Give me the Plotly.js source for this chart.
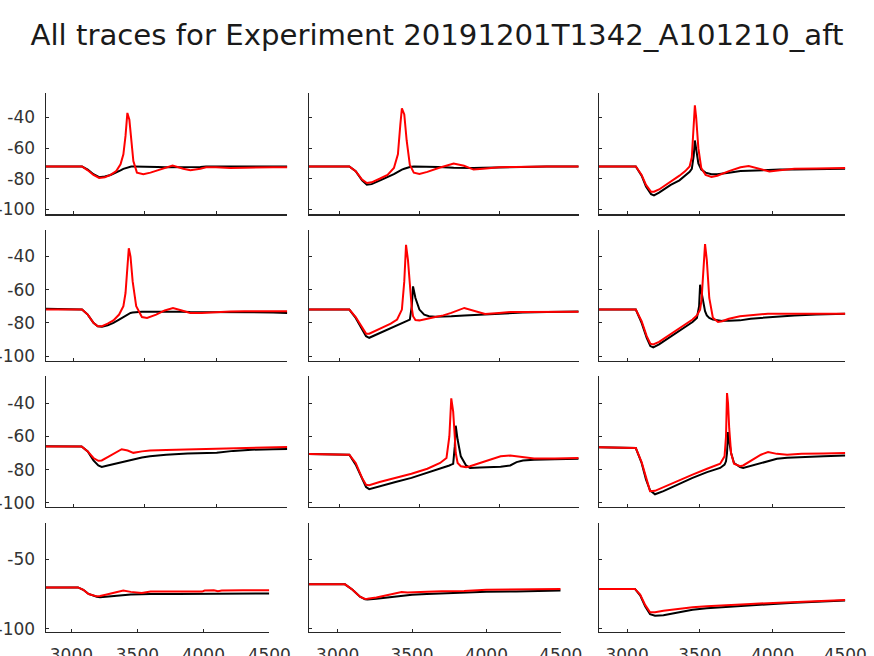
<!DOCTYPE html>
<html>
<head>
<meta charset="utf-8">
<script src="https://cdn.plot.ly/plotly-3.0.1.min.js"></script>
<style>html,body{margin:0;padding:0;background:#fff;}</style>
</head>
<body>
<div id="chart" style="width:874px;height:656px;"></div>
<script>
// ---- Data (time in ms, membrane potential in mV) ----
// Row 1
const t11 = [2805, 3060, 3100, 3140, 3180, 3220, 3260, 3300, 3330, 3350, 3365, 3378, 3392, 3405, 3420, 3445, 3490, 3540, 3590, 3640, 3695, 3770, 3820, 3890, 3930, 4000, 4100, 4200, 4300, 4400, 4500];
const k11 = [-72, -72, -74, -77, -79, -78.5, -77.5, -76, -74.5, -73.5, -73, -72.5, -72.3, -72, -72, -72, -72, -72, -72.3, -72.5, -72.5, -72.5, -72.5, -72.3, -72, -72, -72, -72, -72, -72, -72];
const r11 = [-72, -72, -74.5, -77.5, -79.5, -79, -77.5, -75, -70.5, -64, -52, -37, -41.5, -54, -68.5, -76, -77, -76, -74.5, -72.5, -71.3, -73.5, -74.5, -73.5, -72.5, -72.5, -73, -72.8, -72.5, -72.5, -72.5];

const t12 = [2805, 3060, 3100, 3140, 3170, 3200, 3250, 3300, 3340, 3365, 3380, 3390, 3405, 3420, 3440, 3465, 3500, 3550, 3620, 3715, 3780, 3840, 3900, 4000, 4100, 4200, 4300, 4400, 4500];
const k12 = [-72, -72, -75, -81, -83.8, -83.5, -81.2, -79, -77, -75.5, -74.5, -74, -73.5, -73, -72.3, -72, -72, -72, -72.3, -72.8, -73, -73, -72.8, -72.5, -72.3, -72.2, -72, -72, -72];
const r12 = [-72, -72, -75, -80.5, -82.8, -82.3, -80, -77.5, -73, -64, -45, -34, -38, -55, -71, -76, -76.8, -75.5, -73, -70, -71.5, -74, -73.5, -72.5, -72.3, -72, -72, -72, -72];

const t13 = [2805, 3060, 3100, 3130, 3165, 3185, 3220, 3260, 3300, 3360, 3400, 3430, 3445, 3458, 3466, 3475, 3490, 3510, 3540, 3580, 3620, 3700, 3780, 3836, 3900, 3978, 4050, 4150, 4300, 4500];
const k13 = [-72, -72, -78, -85, -90, -90.8, -89, -86.5, -84, -81, -78, -75.5, -73.5, -65, -55, -62, -70, -74, -76, -77, -77, -76, -75, -74.8, -74.5, -74.3, -74, -74, -73.8, -73.5];
const r13 = [-72, -72, -77.5, -84, -88.5, -88.5, -87, -84.5, -82, -78, -75, -72, -66, -40, -32, -40, -60, -73, -77.5, -78.8, -78, -75, -72.5, -71.7, -73.5, -75.2, -74.5, -73.5, -73.3, -73];

// Row 2
const t21 = [2805, 3060, 3100, 3140, 3170, 3200, 3240, 3280, 3320, 3350, 3365, 3378, 3388, 3400, 3415, 3440, 3480, 3516, 3580, 3640, 3698, 3760, 3818, 3900, 4000, 4100, 4200, 4300, 4400, 4500];
const k21 = [-71.5, -72, -75, -80, -82, -82.3, -81.5, -80, -78, -76.5, -75.5, -75, -74.5, -74, -73.8, -73.5, -73.3, -73.3, -73.2, -73.2, -73.3, -73.3, -73.5, -73.5, -73.5, -73.5, -73.5, -73.5, -73.7, -74];
const r21 = [-72, -72, -75, -80, -82, -82, -80.5, -78.5, -75, -70, -62, -45, -35, -40, -55, -70, -76.5, -77, -75, -72.5, -71, -72.5, -74, -74, -73.5, -73.2, -73, -73, -73, -73];

const t22 = [2805, 3060, 3100, 3140, 3165, 3185, 3220, 3270, 3320, 3360, 3390, 3405, 3416, 3428, 3440, 3452, 3460, 3475, 3500, 3530, 3560, 3600, 3650, 3700, 3782, 3850, 3912, 4000, 4070, 4150, 4300, 4500];
const k22 = [-72, -72, -77, -84, -88, -89, -87.5, -85, -83, -81.5, -80, -79.5, -79, -78.5, -78, -70, -58, -65, -72, -75, -76, -76.3, -76.3, -76, -75.5, -75.2, -74.8, -74.3, -74, -73.8, -73.5, -73.2];
const r22 = [-72, -72, -76.5, -83, -86.5, -86.5, -85, -82.5, -80.5, -78, -72, -55, -33, -42, -60, -71, -76, -78.3, -78.5, -78, -77.3, -76.5, -75.5, -74, -71, -73, -74.7, -74, -73.5, -73.5, -73.5, -73.3];

const t23 = [2805, 3060, 3100, 3135, 3160, 3180, 3220, 3280, 3340, 3400, 3450, 3480, 3495, 3502, 3512, 3525, 3536, 3548, 3565, 3590, 3625, 3653, 3700, 3776, 3850, 3920, 3968, 4050, 4150, 4300, 4500];
const k23 = [-72, -72, -80, -89, -94, -94.8, -93, -89.5, -86, -82.5, -79.5, -77, -70, -57, -62, -68, -73, -75.5, -77, -78, -78.5, -78.8, -78.8, -78.5, -77.5, -77, -76.5, -76, -75.5, -75, -74.5];
const r23 = [-72, -72, -79, -88, -92.5, -93, -91.5, -88, -84.5, -81, -78, -75.5, -73.5, -72, -66, -45, -32.5, -42, -65, -77, -79.5, -79, -77.5, -76, -75.5, -75, -74.5, -74.5, -74.5, -74.5, -74.5];

// Row 3
const t31 = [2805, 3057, 3100, 3140, 3174, 3198, 3240, 3290, 3338, 3380, 3420, 3480, 3537, 3650, 3800, 3888, 4005, 4121, 4250, 4400, 4500];
const k31 = [-65.9, -66, -69, -74.5, -77.5, -78.4, -77.5, -76.5, -75.5, -74.5, -73.7, -72.7, -71.9, -71, -70.3, -70, -69.9, -68.7, -68, -67.7, -67.5];
const r31 = [-66, -66, -69, -73, -74.7, -74.5, -72.5, -70, -67.7, -68.5, -69.9, -69, -68.5, -68.2, -67.8, -67.5, -67.2, -67, -66.8, -66.5, -66.3];

const t32 = [2805, 3060, 3100, 3140, 3165, 3185, 3250, 3350, 3450, 3550, 3630, 3670, 3688, 3700, 3712, 3722, 3728, 3740, 3760, 3793, 3818, 3880, 3960, 4010, 4070, 4110, 4150, 4220, 4350, 4500];
const k32 = [-70.6, -71, -77, -86, -90.5, -91.8, -90, -87.5, -85, -82, -79.5, -78, -77.5, -77, -76.5, -66, -53.5, -62, -72, -77.5, -79, -78.7, -78.5, -78.3, -77.5, -75.5, -74.5, -74, -73.7, -73.5];
const r32 = [-70.6, -71, -76, -85, -89.2, -89.4, -87.5, -85, -82.5, -79.5, -76, -73, -60, -37, -45, -60, -70, -76, -78, -78.5, -78, -76, -73.5, -72, -71.5, -72, -72.8, -73.3, -73.3, -73];

const t33 = [2805, 3060, 3100, 3130, 3158, 3192, 3250, 3350, 3450, 3550, 3640, 3670, 3680, 3687, 3694, 3702, 3715, 3735, 3777, 3798, 3860, 3920, 3969, 4030, 4100, 4200, 4350, 4500];
const k33 = [-66.5, -67, -76, -86, -92.5, -94.9, -93, -89, -85, -81.5, -79, -77, -75, -70, -57.4, -63, -70, -76, -78.5, -79, -77.5, -76.5, -75, -73.5, -72.8, -72.3, -72, -71.5];
const r33 = [-66.5, -67, -75.5, -85, -93, -92.8, -90.5, -86.5, -83, -79.5, -76.5, -72, -60, -33.8, -40, -55, -70, -76.5, -77.9, -77.5, -74, -71, -69.4, -70.5, -71, -70.5, -70.3, -70];

// Row 4
const t41 = [2805, 3050, 3090, 3130, 3192, 3217, 3260, 3320, 3393, 3450, 3533, 3600, 3800, 3990, 4010, 4080, 4110, 4140, 4300, 4500];
const k41 = [-70.3, -70.3, -72, -75, -77, -77.4, -77, -76.5, -75.5, -75.3, -75.2, -75, -75, -75, -74.8, -74.8, -74.8, -74.8, -74.7, -74.7];
const r41 = [-70.3, -70.3, -72, -75, -76.7, -76.5, -75.5, -74, -72.6, -73.5, -74.3, -73.3, -73.3, -73.3, -72.5, -72.4, -73, -72.5, -72.4, -72.4];

const t42 = [2805, 3049, 3100, 3150, 3184, 3200, 3260, 3340, 3430, 3470, 3500, 3600, 3700, 3850, 4000, 4200, 4400, 4500];
const k42 = [-68.1, -68.1, -72, -77, -78.8, -79, -78.5, -77.5, -76.2, -75.5, -75.5, -75, -74.5, -74, -73.5, -73.2, -72.8, -72.5];
const r42 = [-68.1, -68.1, -72, -77, -78.6, -78.5, -77.5, -75.5, -73.6, -74, -74, -73.5, -73, -72.8, -72, -71.8, -71.6, -71.5];

const t43 = [2805, 3054, 3090, 3125, 3158, 3192, 3250, 3350, 3450, 3547, 3700, 3850, 4005, 4150, 4300, 4500];
const k43 = [-71.4, -71.4, -76, -84, -89.5, -90.5, -90.2, -88, -86.3, -85.2, -84, -83, -82.1, -81.2, -80.4, -79.6];
const r43 = [-71.4, -71.4, -75.5, -83, -88.1, -88, -87, -85.5, -84.5, -83.8, -82.8, -82.2, -81.4, -80.7, -80, -79.3];

const xTicks = [3000, 3500, 4000, 4500];
const yTicksUpper = [-40, -60, -80, -100];
const yTicksLower = [-50, -100];
const titleText = "All traces for Experiment 20191201T1342_A101210_aft";

// ---- Panels ----
const panels = [
  [t11, k11, r11], [t12, k12, r12], [t13, k13, r13],
  [t21, k21, r21], [t22, k22, r22], [t23, k23, r23],
  [t31, k31, r31], [t32, k32, r32], [t33, k33, r33],
  [t41, k41, r41], [t42, k42, r42], [t43, k43, r43]
];

// Layout geometry in pixels
const W = 874, H = 656;
const colX = [
  [[45.7, 287.3], [308.7, 578.7], [598.7, 845.3]],   // rows 1-3
  [[45.7, 269.3], [308.7, 560.7], [598.7, 845.3]]    // row 4
];
const rowY = [[93.3, 214.3], [230, 361], [376, 506.7], [522.7, 631.7]];
const yRanges = [[-103.2, -24.2], [-103, -24], [-102.4, -23.5], [-102, -24]];
const xRange = [2805, 4500];

const fontFam = "DejaVu Sans, sans-serif";
const axisCol = "#262626";

const data = [];
const layout = {
  width: W, height: H,
  margin: {l: 0, r: 0, t: 0, b: 0},
  paper_bgcolor: "#ffffff", plot_bgcolor: "#ffffff",
  showlegend: false,
  title: {
    text: titleText, x: 0.5, xanchor: "center", xref: "paper",
    y: 1 - 35 / H, yanchor: "middle", yref: "paper",
    font: {family: fontFam, size: 29.2, color: "#1a1a1a"}
  }
};

panels.forEach((p, i) => {
  const row = Math.floor(i / 3), col = i % 3;
  const sfx = i === 0 ? "" : String(i + 1);
  const xa = "x" + sfx, ya = "y" + sfx;
  data.push({x: p[0], y: p[1], xaxis: xa, yaxis: ya, type: "scatter", mode: "lines",
             line: {color: "#000000", width: 2}, hoverinfo: "skip"});
  data.push({x: p[0], y: p[2], xaxis: xa, yaxis: ya, type: "scatter", mode: "lines",
             line: {color: "#ff0000", width: 2}, hoverinfo: "skip"});
  const cx = colX[row === 3 ? 1 : 0][col];
  const ry = rowY[row];
  const common = {
    showline: true, linecolor: axisCol, linewidth: 1.2, mirror: false,
    ticks: "inside", ticklen: 3, tickwidth: 1, tickcolor: axisCol,
    showgrid: false, zeroline: false, fixedrange: true,
    tickfont: {family: fontFam, size: 17, color: "#333333"}
  };
  layout["xaxis" + sfx] = Object.assign({}, common, {
    domain: [cx[0] / W, cx[1] / W], anchor: ya, range: xRange,
    tickmode: "array", tickvals: xTicks, ticktext: xTicks.map(String),
    showticklabels: row === 3, ticklabelstandoff: 8
  });
  const yt = row === 3 ? yTicksLower : yTicksUpper;
  layout["yaxis" + sfx] = Object.assign({}, common, {
    domain: [1 - ry[1] / H, 1 - ry[0] / H], anchor: xa, range: yRanges[row],
    tickmode: "array", tickvals: yt, ticktext: yt.map(String),
    showticklabels: col === 0, ticklabelstandoff: 6
  });
});

Plotly.newPlot("chart", data, layout, {staticPlot: true, displayModeBar: false});
</script>
</body>
</html>
